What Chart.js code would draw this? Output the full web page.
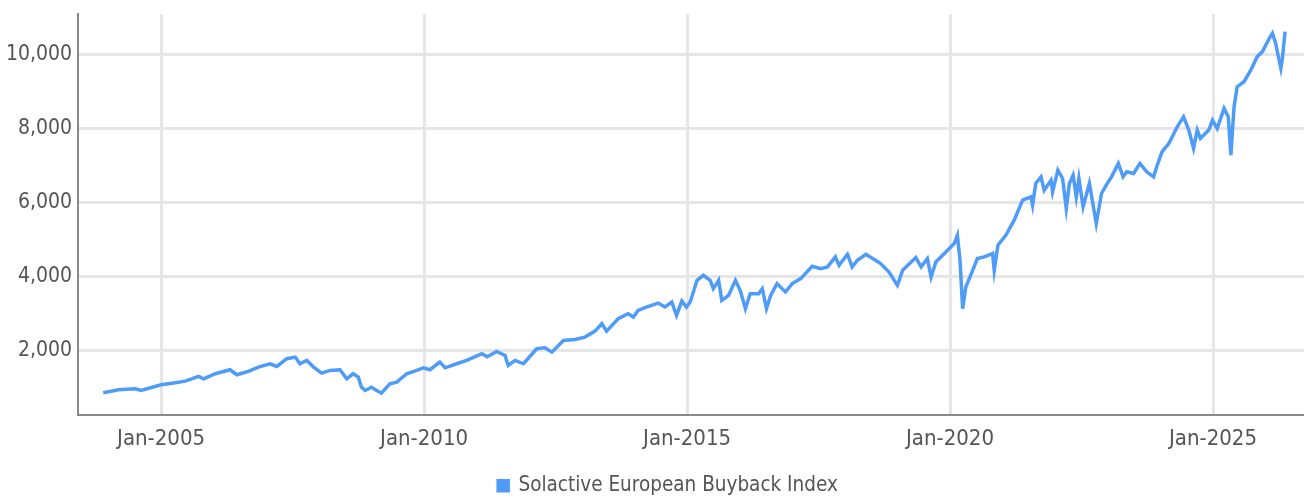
<!DOCTYPE html>
<html>
<head>
<meta charset="utf-8">
<script src="https://cdn.jsdelivr.net/npm/chart.js@4.4.1/dist/chart.umd.min.js"></script>
<style>
  html, body { margin: 0; padding: 0; background: #ffffff; }
  #wrap { width: 1304px; height: 498px; position: relative; }
</style>
</head>
<body>
<div id="wrap"><canvas id="c"></canvas></div>
<script>
const seriesName = "Solactive European Buyback Index";
const dates = [
  2003.90, 2004.19, 2004.51, 2004.62, 2005.00, 2005.27, 2005.46, 2005.71, 2005.81, 2006.03,
  2006.31, 2006.44, 2006.66, 2006.85, 2007.07, 2007.20, 2007.39, 2007.55, 2007.64, 2007.77,
  2007.90, 2008.05, 2008.21, 2008.40, 2008.53, 2008.65, 2008.75, 2008.81, 2008.88, 2009.00,
  2009.10, 2009.19, 2009.35, 2009.48, 2009.67, 2009.86, 2009.99, 2010.11, 2010.30, 2010.40,
  2010.62, 2010.81, 2011.10, 2011.20, 2011.38, 2011.54, 2011.60, 2011.73, 2011.89, 2012.14,
  2012.30, 2012.43, 2012.65, 2012.87, 2013.06, 2013.25, 2013.38, 2013.47, 2013.69, 2013.88,
  2013.98, 2014.07, 2014.20, 2014.45, 2014.58, 2014.71, 2014.80, 2014.90, 2014.99, 2015.06,
  2015.19, 2015.31, 2015.44, 2015.50, 2015.60, 2015.66, 2015.79, 2015.92, 2016.01, 2016.11,
  2016.20, 2016.36, 2016.43, 2016.51, 2016.59, 2016.71, 2016.87, 2017.00, 2017.16, 2017.38,
  2017.54, 2017.67, 2017.82, 2017.89, 2018.05, 2018.14, 2018.24, 2018.40, 2018.53, 2018.68,
  2018.84, 2019.00, 2019.10, 2019.35, 2019.45, 2019.57, 2019.64, 2019.73, 2019.92, 2020.08,
  2020.14, 2020.19, 2020.24, 2020.30, 2020.43, 2020.52, 2020.65, 2020.81, 2020.84, 2020.91,
  2021.06, 2021.22, 2021.38, 2021.54, 2021.57, 2021.63, 2021.73, 2021.79, 2021.92, 2021.95,
  2022.05, 2022.14, 2022.21, 2022.27, 2022.34, 2022.40, 2022.45, 2022.53, 2022.65, 2022.78,
  2022.88, 2022.97, 2023.07, 2023.20, 2023.29, 2023.36, 2023.49, 2023.61, 2023.74, 2023.87,
  2023.93, 2024.03, 2024.16, 2024.32, 2024.44, 2024.54, 2024.63, 2024.70, 2024.76, 2024.92,
  2024.99, 2025.08, 2025.21, 2025.29, 2025.34, 2025.40, 2025.46, 2025.59, 2025.72, 2025.84,
  2025.94, 2026.07, 2026.13, 2026.19, 2026.29, 2026.32, 2026.37
];
const values = [
  853, 934, 961, 915, 1070, 1124, 1168, 1295, 1232, 1368,
  1477, 1341, 1431, 1548, 1639, 1566, 1775, 1820, 1639, 1729,
  1548, 1385, 1458, 1477, 1232, 1368, 1277, 1005, 915, 1005,
  915, 843, 1097, 1141, 1368, 1458, 1530, 1477, 1683, 1530,
  1639, 1729, 1910, 1830, 1973, 1864, 1593, 1729, 1639, 2046,
  2073, 1954, 2271, 2298, 2361, 2523, 2724, 2523, 2859, 2995,
  2904, 3085, 3158, 3283, 3175, 3310, 2949, 3337, 3175, 3310,
  3898, 4034, 3898, 3673, 3898, 3356, 3492, 3898, 3627, 3131,
  3537, 3537, 3673, 3131, 3492, 3809, 3582, 3809, 3945, 4279,
  4216, 4261, 4532, 4306, 4604, 4261, 4441, 4604, 4487, 4351,
  4124, 3763, 4170, 4514, 4261, 4487, 3988, 4396, 4667, 4893,
  5119, 4441, 3131, 3717, 4170, 4487, 4532, 4622, 4170, 4848,
  5119, 5526, 6069, 6159, 5933, 6521, 6701, 6340, 6611, 6294,
  6882, 6656, 5843, 6521, 6746, 6159, 6656, 5888, 6521, 5436,
  6250, 6475, 6701, 7064, 6701, 6837, 6792, 7064, 6837, 6701,
  6973, 7378, 7605, 8057, 8328, 7967, 7470, 7967, 7741, 7967,
  8238, 8012, 8555, 8328, 7289, 8600, 9141, 9277, 9594, 9955,
  10091, 10453, 10589, 10318, 9640, 9911, 10633
];
const xTicks = [2005, 2010, 2015, 2020, 2025];
const xTickLabels = ["Jan-2005", "Jan-2010", "Jan-2015", "Jan-2020", "Jan-2025"];
const yTicks = [2000, 4000, 6000, 8000, 10000];

const FONT = "'Liberation Sans Narrow', 'DejaVu Sans Condensed', 'Roboto', sans-serif";
const points = dates.map((d, i) => ({ x: d, y: values[i] }));

const legendShift = {
  id: 'legendShift',
  afterLayout(chart) {
    if (chart.legend) { chart.legend.left += 16; chart.legend.right += 16; }
  }
};

new Chart(document.getElementById('c'), {
  type: 'line',
  plugins: [legendShift],
  data: {
    datasets: [{
      label: seriesName,
      data: points,
      borderColor: '#4f9bf8',
      backgroundColor: '#4f9bf8',
      borderWidth: 3.5,
      pointRadius: 0,
      tension: 0,
      fill: false
    }]
  },
  options: {
    responsive: true,
    maintainAspectRatio: false,
    animation: false,
    layout: { padding: { left: 0, right: 0, top: 14, bottom: -8 } },
    plugins: {
      tooltip: { enabled: false },
      legend: {
        position: 'bottom',
        labels: {
          boxWidth: 10,
          boxHeight: 10,
          color: '#555555',
          font: { family: FONT, size: 20.5 },
          padding: 2
        }
      }
    },
    scales: {
      x: {
        type: 'linear',
        min: 2003.42,
        max: 2026.73,
        afterBuildTicks: s => { s.ticks = xTicks.map(v => ({ value: v })); },
        afterFit: s => { s.height = 59; s.paddingLeft = 0; s.paddingRight = 0; },
        ticks: {
          color: '#555555',
          font: { family: FONT, size: 22 },
          padding: 12,
          maxRotation: 0,
          autoSkip: false,
          callback: v => xTickLabels[xTicks.indexOf(v)]
        },
        grid: { color: '#e6e6e6', lineWidth: 3, drawTicks: false },
        border: { display: true, color: '#8a8a8a', width: 2 }
      },
      y: {
        type: 'linear',
        min: 265,
        max: 11110,
        afterBuildTicks: s => { s.ticks = yTicks.map(v => ({ value: v })); },
        afterFit: s => { s.width = 78; s.paddingTop = 0; s.paddingBottom = 0; },
        ticks: {
          color: '#555555',
          font: { family: FONT, size: 21 },
          padding: 6,
          callback: v => v.toLocaleString('en-US')
        },
        grid: { color: '#e6e6e6', lineWidth: 3, drawTicks: false },
        border: { display: true, color: '#8a8a8a', width: 2 }
      }
    }
  }
});
</script>
</body>
</html>
